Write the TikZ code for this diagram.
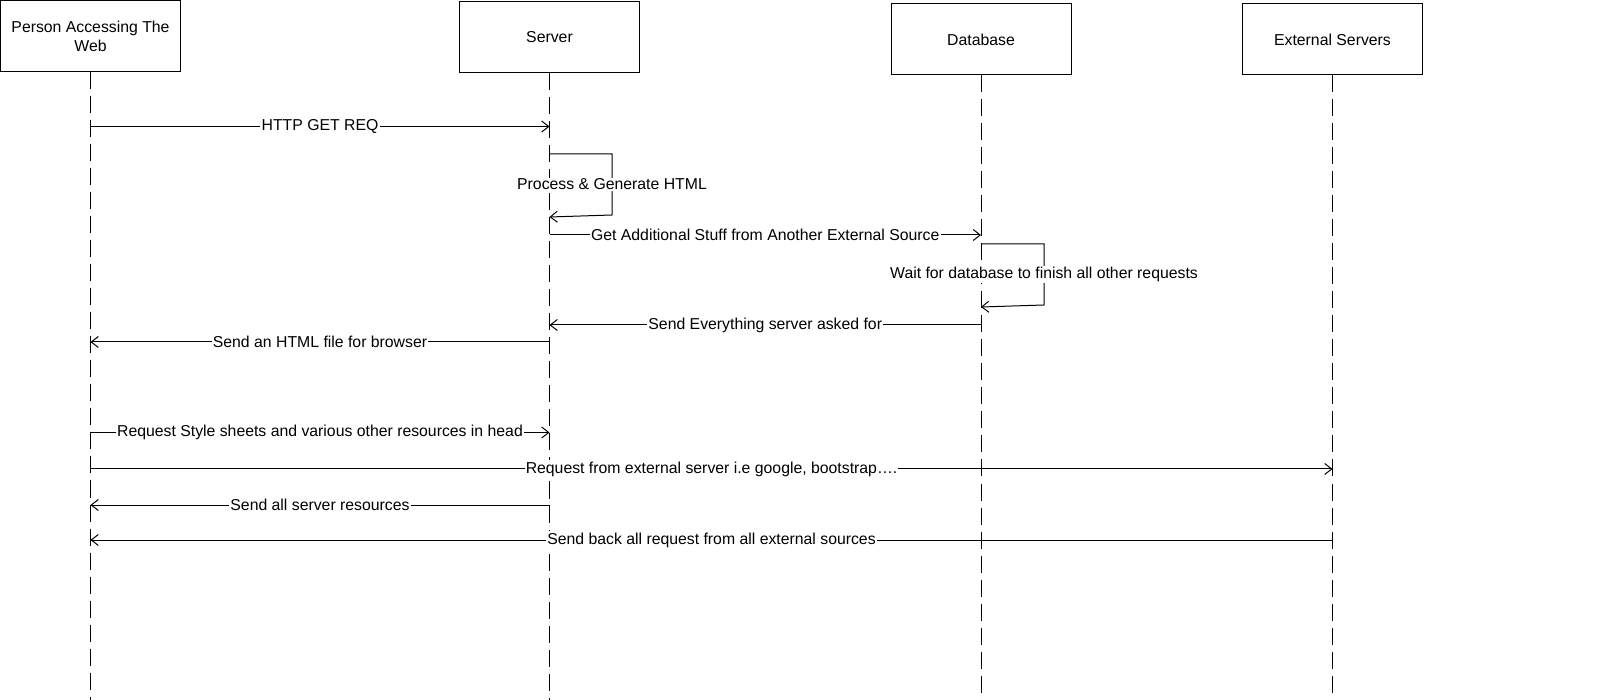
\documentclass[tikz,border=0pt]{standalone}
\usepackage{fontspec}
\setmainfont{Liberation Sans}
\usetikzlibrary{arrows.meta}
\begin{document}
\begin{tikzpicture}[x=1pt,y=-1pt,line width=1pt,
  actor/.style={draw,minimum width=180pt,minimum height=71pt,align=center,inner sep=0pt,font=\fontsize{15.8}{19}\selectfont},
  msg/.style={-{Straight Barb[length=7pt,width=11pt]}},
  lbl/.style={fill=white,inner sep=1.2pt,font=\fontsize{15.8}{19}\selectfont},
  life/.style={dash pattern=on 17pt off 7pt}]
\useasboundingbox (0,0) rectangle (1607,700);
% actors
\node[actor] (A) at (90.5,36.5) {Person Accessing The\\Web};
\node[actor] (S) at (549.5,37.5) {Server};
\node[actor] (D) at (981,39.5) {Database};
\node[actor] (E) at (1332.5,39.5) {External Servers};
% lifeline ends
\coordinate (Aend) at (A.south |- 0,700);
\coordinate (Send) at (S.south |- 0,700);
\coordinate (Dend) at (D.south |- 0,700);
\coordinate (Eend) at (E.south |- 0,700);
% lifelines
\draw[life] (A.south) -- (Aend);
\draw[life] (S.south) -- (Send);
\draw[life] (D.south) -- (Dend);
\draw[life] (E.south) -- (Eend);
% message points
\coordinate (m1a) at (A.south |- 0,126.5);
\coordinate (m1b) at (S.south |- 0,126.5);
\coordinate (l1a) at (S.south |- 0,154);
\coordinate (l1b) at (612,154);
\coordinate (l1c) at (612,215);
\coordinate (l1d) at (S.south |- 0,217);
\coordinate (m3a) at (S.south |- 0,235);
\coordinate (m3b) at (D.south |- 0,235);
\coordinate (l2a) at (D.south |- 0,244);
\coordinate (l2b) at (1044,244);
\coordinate (l2c) at (1044,305);
\coordinate (l2d) at (D.south |- 0,307);
\coordinate (m5a) at (D.south |- 0,325);
\coordinate (m5b) at (S.south |- 0,325);
\coordinate (m6a) at (S.south |- 0,342);
\coordinate (m6b) at (A.south |- 0,342);
\coordinate (m7a) at (A.south |- 0,432.5);
\coordinate (m7b) at (S.south |- 0,432.5);
\coordinate (m8a) at (A.south |- 0,469);
\coordinate (m8b) at (E.south |- 0,469);
\coordinate (m9a) at (S.south |- 0,505);
\coordinate (m9b) at (A.south |- 0,505);
\coordinate (m10a) at (E.south |- 0,540);
\coordinate (m10b) at (A.south |- 0,540);
% messages
\draw[msg] (m1a) -- node[lbl]{HTTP GET REQ} (m1b);
\draw[msg] (l1a) -- (l1b) -- node[lbl]{Process \& Generate HTML} (l1c) -- (l1d);
\draw[msg] (m3a) -- node[lbl]{Get Additional Stuff from Another External Source} (m3b);
\draw[msg] (l2a) -- (l2b) -- node[lbl]{Wait for database to finish all other requests} (l2c) -- (l2d);
\draw[msg] (m5a) -- node[lbl]{Send Everything server asked for} (m5b);
\draw[msg] (m6a) -- node[lbl]{Send an HTML file for browser} (m6b);
\draw[msg] (m7a) -- node[lbl]{Request Style sheets and various other resources in head} (m7b);
\draw[msg] (m8a) -- node[lbl]{Request from external server i.e google, bootstrap….} (m8b);
\draw[msg] (m9a) -- node[lbl]{Send all server resources} (m9b);
\draw[msg] (m10a) -- node[lbl]{Send back all request from all external sources} (m10b);
\end{tikzpicture}
\end{document}
